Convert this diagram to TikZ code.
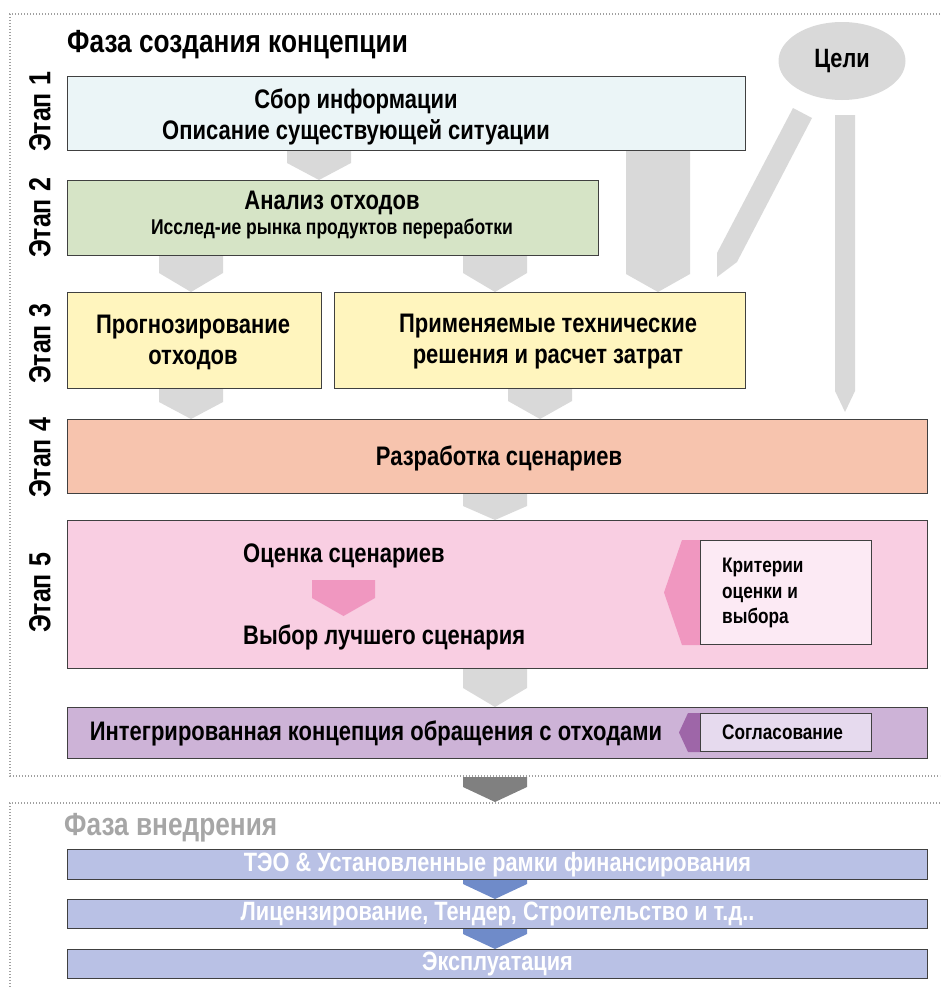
\documentclass[tikz,border=0pt]{standalone}
\usepackage{fontspec}
\setmainfont[FakeStretch=0.82]{Liberation Sans}
\usetikzlibrary{calc,shapes.geometric}
\definecolor{frameGray}{RGB}{160,160,160}
\definecolor{arrGray}{RGB}{217,217,217}
\definecolor{darkArr}{RGB}{128,128,128}
\definecolor{infoBlue}{RGB}{235,245,247}
\definecolor{wasteGreen}{RGB}{214,228,198}
\definecolor{techYellow}{RGB}{255,245,190}
\definecolor{scenSalmon}{RGB}{247,196,174}
\definecolor{evalPink}{RGB}{249,206,226}
\definecolor{critPink}{RGB}{252,234,244}
\definecolor{pinkArr}{RGB}{240,151,192}
\definecolor{conceptLilac}{RGB}{205,179,215}
\definecolor{agreeLilac}{RGB}{230,218,238}
\definecolor{purpleArr}{RGB}{158,102,168}
\definecolor{implBlue}{RGB}{185,193,229}
\definecolor{blueArr}{RGB}{111,139,201}
\definecolor{implGray}{RGB}{166,166,166}

\tikzset{
  stagebox/.style={draw=black!75, line width=1pt, inner sep=0pt, anchor=north west},
  boxtext/.style={font=\bfseries\fontsize{26.8}{31}\selectfont, inner sep=0pt, align=center},
  smalltext/.style={font=\bfseries\fontsize{21}{25.5}\selectfont, inner sep=0pt, align=left},
  stagelabel/.style={font=\bfseries\fontsize{30.5}{34}\selectfont, rotate=90, inner sep=0pt},
  phasedots/.style={frameGray, line width=1.2pt, dash pattern=on 1.2pt off 1.8pt},
  impltext/.style={font=\bfseries\fontsize{26.5}{30}\selectfont, text=white, inner sep=0pt}
}

% chevron from one box down to the next: [colour]{x}{from}{to}{depth of the point}
\newcommand{\chev}[5][arrGray]{%
  \fill[#1] (#2-32,0 |- #3) -- (#2+32,0 |- #3) -- ($(#2+32,0 |- #4)+(0,-#5)$)
    -- (#2,0 |- #4) -- ($(#2-32,0 |- #4)+(0,-#5)$) -- cycle;}

\begin{document}
\begin{tikzpicture}[x=1pt,y=-1pt]
\useasboundingbox (0,0) rectangle (940,988);

% Phase frames
\draw[phasedots] (940,14) -- (10,14) -- (10,776) -- (940,776);
\draw[phasedots] (940,803) -- (10,803) -- (10,988);

\node[anchor=west, inner sep=0pt, font=\bfseries\fontsize{32}{36}\selectfont] (phase1) at (67,45) {Фаза создания концепции};

% Stage labels
\node[stagelabel] (st1) at (40,112) {Этап 1};
\node[stagelabel] (st2) at (40,218) {Этап 2};
\node[stagelabel] (st3) at (40,344) {Этап 3};
\node[stagelabel] (st4) at (40,458) {Этап 4};
\node[stagelabel] (st5) at (40,593) {Этап 5};

% Boxes of the concept phase
\node[stagebox, fill=infoBlue, minimum width=678, minimum height=74] (b1) at (67,76) {};
\node[stagebox, fill=wasteGreen, minimum width=531, minimum height=75] (b2) at (67,180) {};
\node[stagebox, fill=techYellow, minimum width=254, minimum height=96] (b3a) at (67,292) {};
\node[stagebox, fill=techYellow, minimum width=411, minimum height=96] (b3b) at (334,292) {};
\node[stagebox, fill=scenSalmon, minimum width=860, minimum height=74] (b4) at (67,419) {};
\node[stagebox, fill=evalPink, minimum width=860, minimum height=148] (b5) at (67,520) {};
\node[stagebox, fill=conceptLilac, minimum width=860, minimum height=51] (b6) at (67,707) {};

\node[boxtext] (t1) at (356,116.5) {Сбор информации\\Описание существующей ситуации};
\node[boxtext] (t2) at (332,203) {Анализ отходов};
\node[inner sep=0pt, font=\bfseries\fontsize{21.4}{25}\selectfont] (t2b) at (332,229) {Исслед-ие рынка продуктов переработки};
\node[boxtext] (t3a) at (193,342) {Прогнозирование\\отходов};
\node[boxtext] (t3b) at (548,342) {Применяемые технические\\решения и расчет затрат};
\node[boxtext] (t4) at (499,458) {Разработка сценариев};
\node[boxtext, anchor=west] (t5a) at (243,556) {Оценка сценариев};
\node[boxtext, anchor=west] (t5b) at (243,637) {Выбор лучшего сценария};
\node[boxtext] (t6) at (376,733) {Интегрированная концепция обращения с отходами};

% Goals
\node[ellipse, fill=arrGray, minimum width=127, minimum height=78, inner sep=0pt,
  font=\bfseries\fontsize{26.5}{30}\selectfont] (goals) at (842,61) {Цели};
\fill[arrGray] (793,108) -- (812,118) -- (737,262) -- (717,277) -- (717,253) -- cycle;
\fill[arrGray] ($(835,0 |- goals.south)+(0,15)$) -- ($(855,0 |- goals.south)+(0,15)$)
  -- ($(855,0 |- b4.north)+(0,-28)$) -- ($(845,0 |- b4.north)+(0,-7)$)
  -- ($(835,0 |- b4.north)+(0,-28)$) -- cycle;

% Grey chevrons
\chev{319}{b1.south}{b2.north}{17}
\chev{191}{b2.south}{b3a.north}{19}
\chev{495}{b2.south}{b3b.north}{19}
\chev{658}{b1.south}{b3b.north}{18}
\chev{191}{b3a.south}{b4.north}{17}
\chev{540}{b3b.south}{b4.north}{18}
\chev{495}{b4.south}{b5.north}{14}
\chev{495}{b5.south}{b6.north}{19}

% Inside stage 5
\fill[pinkArr] (312,580) -- (375,580) -- (375,598) -- (343.5,616) -- (312,598) -- cycle;
\node[stagebox, fill=critPink, minimum width=171, minimum height=104] (crit) at (700,540) {};
\fill[pinkArr] (crit.north west) -- ++(-18,0) -- ($(crit.west)+(-36,0)$) -- ($(crit.south west)+(-18,0)$) -- (crit.south west) -- cycle;
\draw[black!75, line width=1pt] (crit.north west) -- (crit.south west);
\node[smalltext, anchor=west] (critt) at (722,593) {Критерии\\оценки и\\выбора};

\node[stagebox, fill=agreeLilac, minimum width=171, minimum height=38] (agree) at (700,713) {};
\fill[purpleArr] (agree.north west) -- ++(-12,0) -- ($(agree.west)+(-21,0)$) -- ($(agree.south west)+(-12,0)$) -- (agree.south west) -- cycle;
\draw[black!75, line width=1pt] (agree.north west) -- (agree.south west);
\node[smalltext, anchor=west] (agreet) at (722,732) {Согласование};

% Between the phases
\coordinate (p1end) at (495,777);
\coordinate (p2top) at (495,802);
\chev[darkArr]{495}{p1end}{p2top}{15}

% Implementation phase
\node[anchor=west, inner sep=0pt, text=implGray, font=\bfseries\fontsize{32}{36}\selectfont] (phase2) at (64,828) {Фаза внедрения};
\node[stagebox, fill=implBlue, minimum width=860, minimum height=30] (i1) at (67,849) {};
\node[stagebox, fill=implBlue, minimum width=860, minimum height=29] (i2) at (67,899) {};
\node[stagebox, fill=implBlue, minimum width=860, minimum height=29] (i3) at (67,949) {};
\chev[blueArr]{495}{i1.south}{i2.north}{15}
\chev[blueArr]{495}{i2.south}{i3.north}{15}
\node[impltext] at (i1.center) {ТЭО \& Установленные рамки финансирования};
\node[impltext] at (i2.center) {Лицензирование, Тендер, Строительство и т.д..};
\node[impltext] at (i3.center) {Эксплуатация};
\end{tikzpicture}
\end{document}
